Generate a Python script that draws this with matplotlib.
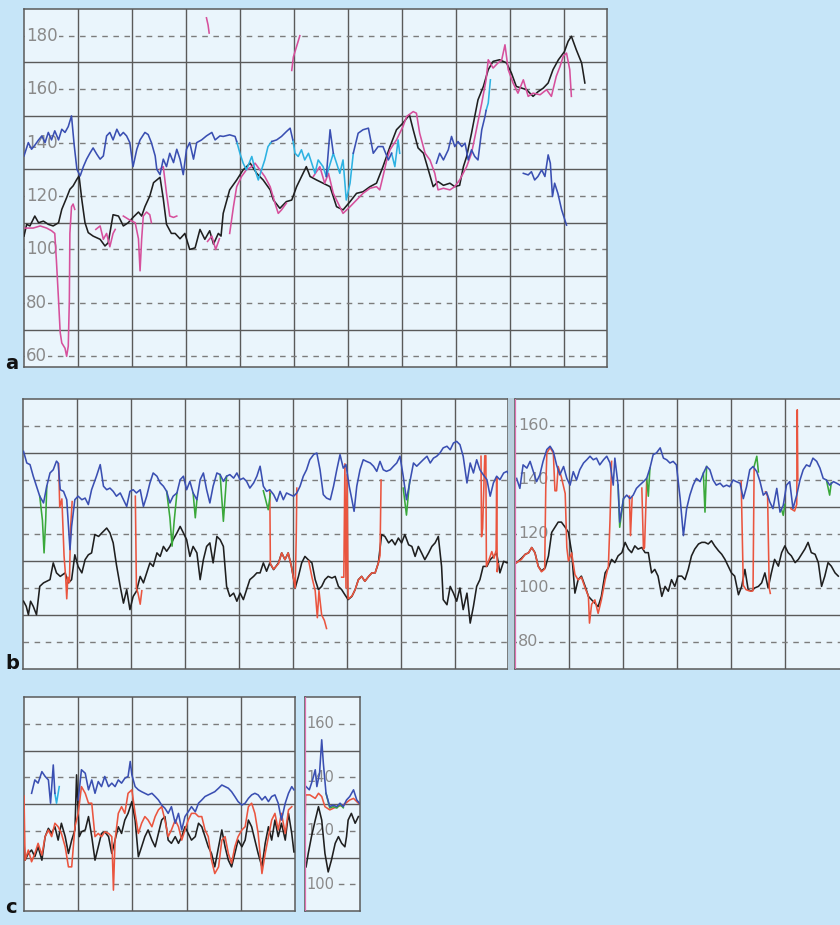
import matplotlib
matplotlib.use("Agg")
import matplotlib.pyplot as plt
from matplotlib.patches import Rectangle

# ---- traces: (time in grid units, bpm) ----
a_black = [(0.00,105),(0.05,109.4),(0.11,108.8),(0.20,112.5),(0.27,110),(0.36,110.6),(0.45,109.4),(0.54,108.8),
           (0.64,110),(0.70,115),(0.79,119.4),(0.85,122.5),(0.91,123.8),(0.98,126.3),(1.02,127.5),(1.07,118.8),
           (1.13,110),(1.19,106.3),(1.28,105),(1.41,103.8),(1.50,101.3),(1.56,102.5),(1.65,113),(1.75,112.5),
           (1.84,108.8),(1.93,110),(2.02,112),(2.12,114),(2.18,112.5),(2.24,116),(2.33,120),(2.40,125),(2.46,126),
           (2.52,127),(2.58,119),(2.64,109.4),(2.73,106),(2.80,106),(2.89,104),(2.98,106),(3.07,100),(3.17,100.6),
           (3.26,107.5),(3.35,103.8),(3.44,107),(3.51,102),(3.60,106),(3.65,105),(3.69,113.5),(3.81,122.3),
           (3.94,126),(4.06,129.8),(4.19,132.3),(4.31,128.5),(4.43,126),(4.56,122.3),(4.62,118.5),(4.74,115.4),
           (4.86,117.9),(4.96,118.5),(5.05,123.5),(5.17,128.5),(5.23,131),(5.30,127.3),(5.42,126),(5.54,124.8),
           (5.67,123.5),(5.79,116),(5.91,114.8),(6.04,117.9),(6.16,121),(6.28,121.6),(6.41,123.5),(6.53,124.8),
           (6.65,131),(6.78,138.5),(6.90,144.8),(7.02,147.3),(7.14,150.4),(7.21,144.8),(7.30,138),(7.40,136),
           (7.49,129.8),(7.58,123.5),(7.67,125.4),(7.77,124),(7.89,124.8),(7.98,123.5),(8.07,124),(8.14,131),
           (8.20,134.8),(8.29,143.5),(8.35,149.8),(8.41,156),(8.51,161),(8.60,167.3),(8.69,170.4),(8.81,171),
           (8.94,169.8),(9.03,166),(9.12,161),(9.22,160.4),(9.31,159.8),(9.43,157.3),(9.52,159),(9.62,160.4),
           (9.71,162.3),(9.80,167.3),(9.90,171),(10.01,174),(10.08,177.9),(10.14,179.8),(10.23,174.8),
           (10.33,169.8),(10.39,162.3)]

a_pink = [
    [(0.02,108),(0.17,108),(0.30,108.8),(0.42,108),(0.51,107),(0.57,106),(0.60,96),(0.64,81),(0.67,69),
     (0.70,65),(0.76,63),(0.79,60),(0.82,63.8),(0.84,81),(0.85,106),(0.88,116),(0.91,117),(0.94,115)],
    [(1.33,107.5),(1.41,108.8),(1.47,103.8),(1.53,106),(1.59,101),(1.65,106),(1.69,107.5)],
    [(1.84,112.5),(1.96,111),(2.06,110),(2.12,104),(2.15,92),(2.18,104),(2.21,112.5),(2.27,114),(2.33,113),(2.36,110)],
    [(2.52,130),(2.58,131),(2.64,121),(2.70,112.5),(2.77,112),(2.83,112.5)],
    [(3.40,103),(3.48,105),(3.55,100),(3.62,104)],
    [(3.38,186.7),(3.41,184),(3.43,181)],
    [(3.81,106),(3.88,116),(3.94,123.5),(4.03,127.3),(4.12,129.8),(4.22,131),(4.28,132.3),(4.37,129.8),
     (4.46,127.3),(4.56,123.5),(4.65,117.3),(4.71,113.5),(4.77,114.8),(4.86,117.3)],
    [(4.96,167),(4.99,172),(5.05,176),(5.11,180)],
    [(5.36,127.3),(5.48,131),(5.57,124.8),(5.64,128.5),(5.73,121),(5.85,116),(5.91,113.5),(6.04,116),
     (6.16,118.5),(6.28,121),(6.41,122.9),(6.53,123.5),(6.59,122.3),(6.65,127.3),(6.72,133.5),(6.78,137.3),
     (6.90,141),(7.02,146),(7.09,149.8),(7.21,151.6),(7.27,151),(7.33,143.5),(7.43,136),(7.52,133.5),
     (7.61,128.5),(7.67,122.3),(7.77,122.9),(7.89,122.3),(7.98,123.5),(8.07,126),(8.20,131),(8.29,136),
     (8.38,144.8),(8.48,154.8),(8.56,163.5),(8.60,171),(8.69,167.9),(8.78,169.8),(8.85,171),(8.91,176.6),
     (8.97,167.3),(9.06,162.3),(9.15,158.5),(9.25,163.5),(9.34,157.3),(9.43,158.5),(9.56,157.9),(9.68,159.8),
     (9.77,157.3),(9.86,164.8),(9.93,168.5),(9.99,172.3),(10.05,173.5),(10.11,167.3),(10.14,157.3)],
]

a_blue = [
    [(0.00,135),(0.08,140),(0.14,137.5),(0.20,139),(0.27,141),(0.33,142.5),(0.39,140),(0.45,143.8),(0.51,141),
     (0.57,144.4),(0.64,141),(0.70,145),(0.76,143.8),(0.82,146),(0.88,150),(0.93,139),(0.98,130),(1.04,127.5),
     (1.10,131),(1.16,133.8),(1.22,136),(1.28,138),(1.35,135.6),(1.41,133.8),(1.47,135),(1.53,142.5),
     (1.59,143.8),(1.65,141),(1.72,145),(1.78,142.5),(1.84,143.8),(1.90,142.5),(1.96,140),(2.02,131),
     (2.09,137.5),(2.15,141),(2.24,143.8),(2.30,143),(2.36,140),(2.43,135),(2.46,130),(2.52,128),(2.58,133.8),
     (2.64,131),(2.70,136),(2.77,132.5),(2.83,137.5),(2.89,133.8),(2.95,128),(3.01,137.5),(3.07,140),
     (3.14,133.8),(3.20,140),(3.29,141),(3.38,142.5),(3.48,143.8),(3.54,141),(3.63,142.5),(3.69,142.3),
     (3.81,142.9),(3.91,142.3),(3.94,140.4)],
    [(4.59,140.4),(4.68,141),(4.77,142.3),(4.86,144.1),(4.93,145.4),(4.98,141)],
    [(5.60,127.3),(5.67,144.8),(5.73,136)],
    [(6.10,136),(6.19,143.5),(6.28,144.8),(6.38,145.4),(6.47,136),(6.56,138.5),(6.65,138.5),(6.75,133.5),(6.81,136)],
    [(7.64,132.3),(7.70,136),(7.77,133.5),(7.86,137.3),(7.92,142.3),(7.98,138.5),(8.04,140.4),(8.11,138.5),
     (8.17,139.8),(8.23,133.5),(8.29,137.3),(8.35,134.8),(8.41,133.5),(8.48,144.8),(8.54,149.8),(8.56,152)],
    [(9.25,128.5),(9.34,127.9),(9.40,129.1),(9.46,126),(9.52,127.3),(9.59,129.8),(9.65,127.3),(9.71,135.4),
     (9.75,132.3),(9.79,119.8),(9.83,124.8),(9.89,121),(9.96,114.8),(10.02,111),(10.05,109.1)],
]

a_cyan = [
    [(3.94,140.4),(4.00,136),(4.06,132.3),(4.12,129.8),(4.22,134.8),(4.28,129.8),(4.34,126),(4.40,129.8),
     (4.46,133.5),(4.52,138.5),(4.59,140.4)],
    [(4.98,141),(5.02,136),(5.08,134.8),(5.14,137.3),(5.20,133.5),(5.27,136),(5.33,132.3),(5.39,128.5),
     (5.45,133.5),(5.54,131),(5.60,127.3),(5.73,136),(5.79,132.3),(5.85,128.5),(5.91,133.5),(5.97,118.5),
     (6.04,124.8),(6.10,136)],
    [(6.81,136),(6.87,131),(6.93,141),(6.96,136)],
    [(8.56,152),(8.60,154.8),(8.64,163.5)],
]

bl_black = [(0.01,95.1),(0.06,93.2),(0.10,90.1),(0.14,95.1),(0.19,93.2),(0.25,90.1),(0.31,100.6),(0.38,101.9),
            (0.44,102.5),(0.50,103.1),(0.56,109.3),(0.62,105.6),(0.69,104.3),(0.78,105.6),(0.84,101.9),(0.90,103.1),
            (0.96,112.3),(1.02,108),(1.09,105.6),(1.15,110.5),(1.21,112.3),(1.27,113),(1.33,119.8),(1.40,119.1),
            (1.46,120.4),(1.55,122.2),(1.61,120.4),(1.67,116.7),(1.73,108.6),(1.80,100.6),(1.86,94.4),(1.92,99.4),
            (1.98,92),(2.04,96.9),(2.10,98.8),(2.17,104.3),(2.23,101.9),(2.29,105.6),(2.35,109.3),(2.41,108),
            (2.48,113),(2.54,111.7),(2.60,115.4),(2.66,113.6),(2.72,115.4),(2.78,117.9),(2.85,120.4),(2.91,122.8),
            (2.97,120.4),(3.03,117.9),(3.09,111.7),(3.15,115.4),(3.22,113),(3.28,103.1),(3.34,110.5),(3.40,115.4),
            (3.46,116.7),(3.52,109.3),(3.59,119.1),(3.65,117.9),(3.71,115.4),(3.77,100.6),(3.83,96.9),(3.90,98.1),
            (3.96,95.1),(4.02,98.1),(4.08,95.7),(4.14,99.4),(4.20,103.1),(4.27,104.3),(4.33,105.6),(4.39,105.6),
            (4.45,109.3),(4.51,106.2),(4.57,109.3),(4.64,106.8),(4.73,109.3),(4.79,113),(4.85,110.5),(4.91,113),
            (4.97,108),(5.04,100),(5.10,104.3),(5.16,109.3),(5.22,111.7),(5.28,110.5),(5.35,109.3),(5.41,103.1),
            (5.47,99.4),(5.53,100.6),(5.59,103.1),(5.65,104.3),(5.72,103.7),(5.78,104.3),(5.84,100.6),(5.90,99.4),
            (5.96,97.5),(6.02,95.7),(6.09,96.9),(6.15,99.4),(6.21,103.1),(6.27,104.3),(6.33,102.5),(6.40,104.3),
            (6.46,105.6),(6.52,105.6),(6.58,109.3),(6.64,119.8),(6.70,119.1),(6.77,116.7),(6.83,117.9),(6.89,116),
            (6.95,118.5),(7.01,116.7),(7.07,119.8),(7.14,116),(7.20,115.4),(7.26,111.7),(7.32,115.4),(7.38,113),
            (7.44,110.5),(7.51,113),(7.57,115.4),(7.63,116.7),(7.69,119.1),(7.75,108),(7.78,95.7),(7.85,93.8),
            (7.91,100.6),(7.97,98.1),(8.03,95.1),(8.09,100),(8.15,92),(8.22,98.1),(8.28,87),(8.34,93.2),
            (8.40,100.6),(8.46,103.1),(8.52,108),(8.59,108),(8.65,110.5),(8.71,111.7),(8.77,113),(8.83,105.6),
            (8.90,109.9),(8.96,109.3),(9.02,109.9)]

bl_blue = [(0.01,150.6),(0.07,146.3),(0.13,145.7),(0.19,141.4),(0.25,137.7),(0.31,134),(0.38,131.5),(0.44,137.7),
           (0.50,142.6),(0.56,143.8),(0.62,147),(0.65,146.3),(0.69,136.4),(0.75,135.8),(0.81,132.7),(0.87,114.2),
           (0.90,122.8),(0.96,132.7),(1.02,134),(1.09,132.7),(1.15,133.3),(1.21,130.9),(1.27,136.4),(1.36,141.4),
           (1.43,145.7),(1.49,137.7),(1.55,136.4),(1.61,137),(1.67,135.8),(1.73,134),(1.80,135.2),(1.86,132.7),
           (1.92,130.2),(1.98,135.8),(2.04,136.4),(2.10,135.2),(2.17,136.4),(2.23,130.2),(2.29,134),(2.35,138.9),
           (2.41,142.6),(2.48,141.4),(2.54,138.9),(2.60,137.7),(2.66,135.8),(2.72,131.5),(2.78,134),(2.85,135.2),
           (2.91,140.1),(2.97,141.4),(3.03,136.4),(3.09,139.5),(3.15,135.2),(3.22,132.7),(3.28,140.1),(3.34,142.6),
           (3.40,136.4),(3.46,131.5),(3.52,137.7),(3.59,142.6),(3.65,142),(3.71,139.5),(3.77,141.4),(3.83,142),
           (3.90,140.7),(3.96,142.6),(4.02,140.1),(4.08,140.7),(4.14,139.5),(4.20,137),(4.27,138.9),(4.33,141.4),
           (4.39,145.1),(4.45,137.7),(4.51,135.8),(4.57,136.4),(4.64,134.6),(4.70,132.1),(4.76,135.8),(4.82,132.7),
           (4.88,135.2),(4.94,134.6),(5.01,134),(5.07,135.2),(5.13,137.7),(5.19,141.4),(5.25,143.8),(5.31,147.5),
           (5.38,149.4),(5.44,150),(5.50,143.8),(5.56,134.6),(5.62,133.3),(5.69,132.7),(5.75,137.7),(5.81,143.8),
           (5.87,149.4),(5.93,144.4),(5.98,145.7),(6.04,137.7),(6.09,132.7),(6.13,128.4),(6.18,137.7),(6.24,143.8),
           (6.30,147.5),(6.36,146.9),(6.43,146.3),(6.49,145.1),(6.55,143.2),(6.61,146.9),(6.67,143.8),(6.73,143.2),
           (6.80,143.8),(6.86,145.1),(6.92,146.3),(6.98,148.8),(7.04,141.4),(7.10,132.7),(7.17,140.1),(7.23,146.3),
           (7.29,145.1),(7.35,146.3),(7.41,147.5),(7.48,148.8),(7.54,146.3),(7.60,148.1),(7.66,148.8),(7.72,150),
           (7.78,151.9),(7.85,152.5),(7.91,151.2),(7.97,153.7),(8.03,154.3),(8.09,153.1),(8.15,148.8),(8.22,138.9),
           (8.28,146.3),(8.34,142.6),(8.40,147.5),(8.46,143.8),(8.52,142),(8.59,140.1),(8.65,134),(8.71,138.9),
           (8.77,141.4),(8.83,140.1),(8.90,142.6),(8.96,143.2),(9.02,141.4)]

bl_green = [
    [(0.31,134),(0.36,125),(0.39,113),(0.42,125),(0.44,137.7)],
    [(2.66,135.8),(2.72,126),(2.76,115.5),(2.80,125),(2.85,135.2)],
    [(3.15,135.2),(3.19,126),(3.22,132.7)],
    [(3.65,142),(3.71,124.7),(3.77,141.4)],
    [(4.45,136),(4.54,129),(4.58,135)],
    [(7.04,137),(7.10,127),(7.16,140)],
]

bl_red = [
    [(0.66,146),(0.68,130),(0.72,133),(0.76,112),(0.79,104),(0.81,96),(0.83,104),(0.86,102),(0.88,122),(0.91,132)],
    [(2.08,134),(2.10,100),(2.13,98),(2.17,94),(2.20,99)],
    [(4.57,136),(4.58,109),(4.64,107),(4.73,109),(4.79,113),(4.85,110.5),(4.91,113),(4.97,108),(5.04,100),
     (5.06,120),(5.07,137)],
    [(5.29,110),(5.35,104),(5.41,99),(5.45,89),(5.48,99),(5.53,90),(5.58,88),(5.62,85)],
    [(5.90,104),(5.94,104),(5.96,146),(5.98,100),(6.00,142),(6.02,96),(6.09,97),(6.15,99.4),(6.21,103),
     (6.27,104.3),(6.33,102.5),(6.40,104.3),(6.46,105.6),(6.52,105.6),(6.58,109.3),(6.61,112),(6.63,140)],
    [(8.48,148.8),(8.49,119),(8.51,122),(8.55,149),(8.57,149),(8.58,108),(8.62,110),(8.68,113.5),(8.72,111),
     (8.76,114),(8.77,141),(8.78,106),(8.80,109)],
]

br_black = [(0.03,109.4),(0.12,111),(0.19,112.5),(0.25,113),(0.31,115),(0.37,113.1),(0.43,108.1),(0.49,106.3),
            (0.56,107.5),(0.62,111.9),(0.68,120.6),(0.74,122.5),(0.80,124.4),(0.86,124.4),(0.93,122.5),(0.99,120.6),
            (1.05,113.1),(1.11,98.1),(1.17,103.1),(1.23,104.4),(1.30,100.6),(1.36,96.9),(1.42,95.6),(1.48,94.4),
            (1.54,93.1),(1.60,96.9),(1.67,105.6),(1.73,107.5),(1.79,110.6),(1.85,109.4),(1.91,111.9),(1.98,113.1),
            (2.04,116.9),(2.10,114.4),(2.16,113.1),(2.22,115.6),(2.28,114.4),(2.35,115),(2.41,113.1),(2.47,113.1),
            (2.53,105.6),(2.59,106.9),(2.65,104.4),(2.72,96.9),(2.78,100.6),(2.84,98.8),(2.90,103.1),(2.96,100.6),
            (3.02,104.4),(3.09,104.4),(3.15,103.1),(3.21,106.9),(3.27,111.9),(3.33,114.4),(3.40,116.3),(3.46,116.9),
            (3.52,116.9),(3.58,116.3),(3.64,117.5),(3.70,115.6),(3.77,113.8),(3.83,112.5),(3.89,110.6),(3.95,108.1),
            (4.01,105.6),(4.07,104.4),(4.14,97.5),(4.20,100.6),(4.26,106.9),(4.32,99.4),(4.38,98.8),(4.44,100),
            (4.51,100.6),(4.57,101.9),(4.63,105.6),(4.69,100),(4.75,105.6),(4.81,110.6),(4.88,108.1),(4.94,113.1),
            (5.00,115.6),(5.06,113.1),(5.12,111.9),(5.19,109.4),(5.25,110.6),(5.31,112.5),(5.37,114.4),(5.43,116.9),
            (5.49,113.1),(5.56,112.5),(5.62,109.4),(5.68,100.6),(5.74,104.4),(5.80,109.4),(5.86,108.1),(5.93,105.6),
            (5.99,104.4)]

br_blue = [(0.03,140.6),(0.09,136.9),(0.15,145.6),(0.22,144.4),(0.28,146.9),(0.34,143.1),(0.40,139.4),(0.46,141.9),
           (0.52,146.9),(0.59,151.3),(0.65,152.5),(0.71,150.6),(0.77,145.6),(0.83,141.9),(0.90,145),(0.96,140.6),
           (1.02,138.1),(1.08,143.1),(1.14,140),(1.20,143.8),(1.27,146.3),(1.33,147.5),(1.39,148.8),(1.45,147.5),
           (1.51,148.1),(1.57,145.6),(1.64,147.5),(1.70,148.8),(1.76,146.3),(1.82,138.1),(1.85,148.1),(1.91,138.1),
           (1.94,124.4),(2.01,133.1),(2.07,134.4),(2.13,133.1),(2.19,134.4),(2.25,136.9),(2.31,138.1),(2.38,139.4),
           (2.44,140.6),(2.50,144.4),(2.56,149.4),(2.62,150),(2.69,151.9),(2.75,148.1),(2.81,147.5),(2.87,146.3),
           (2.93,146.9),(2.99,145.6),(3.06,133.1),(3.12,119.4),(3.18,129.4),(3.24,134.4),(3.30,138.1),(3.36,140.6),
           (3.43,139.4),(3.49,142.5),(3.55,145),(3.61,143.8),(3.67,140),(3.73,138.1),(3.80,138.8),(3.86,137.5),
           (3.92,138.1),(3.98,137.5),(4.04,140),(4.10,139.4),(4.17,138.8),(4.23,133.1),(4.29,137.5),(4.35,143.8),
           (4.41,145),(4.48,143.1),(4.54,139.4),(4.60,134.4),(4.66,135.6),(4.72,131.9),(4.78,129.4),(4.85,136.9),
           (4.91,128.1),(4.97,130.6),(5.03,138.1),(5.09,139.4),(5.15,129.4),(5.22,134.4),(5.28,140),(5.34,143.8),
           (5.40,145.6),(5.46,145),(5.52,148.1),(5.59,146.9),(5.65,144.4),(5.71,140.6),(5.77,140),(5.83,138.1),
           (5.90,139.4),(5.96,138.8),(6.02,138.1)]

br_green = [
    [(1.91,138.1),(1.94,122.5),(2.01,133.1)],
    [(2.44,140.6),(2.47,134),(2.50,144.4)],
    [(3.49,142.5),(3.52,128.1),(3.55,145)],
    [(4.43,145),(4.48,148.8),(4.51,143)],
    [(4.94,129),(4.97,126.9),(5.00,131)],
    [(5.77,140),(5.83,134.4),(5.86,139)],
]

br_red = [
    [(0.00,109),(0.03,109.4),(0.12,110.6),(0.19,112.5),(0.25,113),(0.31,115),(0.37,113),(0.43,108),(0.49,106),
     (0.55,107),(0.57,137),(0.59,150),(0.65,152),(0.71,150),(0.74,136),(0.77,136),(0.80,145),(0.86,141),
     (0.93,135),(0.96,115),(0.99,110),(1.05,113),(1.11,105),(1.17,103),(1.23,104),(1.30,100),(1.36,97),
     (1.38,87),(1.42,94),(1.48,95.6),(1.54,90.6),(1.60,95.6),(1.67,103),(1.73,108),(1.76,125),(1.79,146.9)],
    [(2.12,134),(2.14,119.4),(2.17,133.5)],
    [(2.35,137),(2.38,114.4),(2.40,115),(2.44,140)],
    [(4.19,139.5),(4.23,101),(4.28,99.4),(4.33,99),(4.38,98.8),(4.41,99),(4.43,144)],
    [(4.64,135.6),(4.68,134),(4.71,100),(4.73,98)],
    [(5.11,129.4),(5.18,128.5),(5.22,131),(5.23,166),(5.24,140)],
]

cl_black = [(0.00,115.3),(0.02,109),(0.08,111.5),(0.14,112.8),(0.20,110.3),(0.26,114),(0.33,109),(0.39,117.8),
            (0.45,120.9),(0.51,119),(0.57,121.5),(0.63,116.5),(0.69,122.8),(0.76,117.8),(0.82,111.5),(0.88,116.5),
            (0.94,120.3),(0.97,140.9),(1.02,117.8),(1.06,119.6),(1.13,120.3),(1.19,125.3),(1.25,117.8),(1.31,109),
            (1.37,114),(1.43,119),(1.49,119.6),(1.56,117.8),(1.62,111.5),(1.68,116.5),(1.74,121.5),(1.80,119),
            (1.86,124),(1.92,126.5),(1.99,130.9),(2.05,124),(2.11,110.3),(2.17,114),(2.23,117.8),(2.29,120.3),
            (2.36,116.5),(2.42,114),(2.48,119),(2.54,124),(2.60,125.3),(2.66,116.5),(2.72,115.3),(2.79,117.8),
            (2.85,115.3),(2.91,117.8),(2.97,121.5),(3.03,119),(3.09,116.5),(3.16,117.8),(3.22,122.8),(3.28,121.5),
            (3.34,117.8),(3.40,114),(3.46,111.5),(3.52,106.5),(3.59,114),(3.65,120.3),(3.71,114),(3.77,109),
            (3.83,106.5),(3.89,111.5),(3.95,116.5),(4.02,114),(4.08,116.5),(4.14,124),(4.20,121.5),(4.26,116.5),
            (4.32,111.5),(4.39,106.5),(4.45,115.3),(4.51,121.5),(4.57,116.5),(4.63,124),(4.69,117.8),(4.75,122.8),
            (4.82,116.5),(4.88,126.5),(4.94,119),(4.98,112.1)]

cl_red = [(0.00,133),(0.02,109),(0.08,112.8),(0.14,108.4),(0.20,111.5),(0.26,115.3),(0.33,110.9),(0.39,117.8),
          (0.45,120.3),(0.51,117.8),(0.57,122.8),(0.63,121.5),(0.69,119),(0.76,114),(0.82,106.5),(0.88,106.5),
          (0.94,121.5),(1.00,126.5),(1.06,136.5),(1.13,134),(1.19,130.3),(1.25,130.3),(1.31,117.8),(1.37,119),
          (1.43,117.8),(1.49,119.6),(1.56,119),(1.62,117.8),(1.65,97.8),(1.68,116.5),(1.74,126.5),(1.80,129),
          (1.86,126.5),(1.92,134),(1.99,135.3),(2.05,126.5),(2.11,119),(2.17,122.8),(2.23,125.3),(2.29,124),
          (2.36,121.5),(2.42,125.3),(2.48,127.8),(2.54,129),(2.60,124),(2.66,117.8),(2.72,120.3),(2.79,124),
          (2.85,121.5),(2.91,116.5),(2.97,120.3),(3.03,124),(3.09,126.5),(3.16,126.5),(3.22,125.3),(3.28,125.3),
          (3.34,120.3),(3.40,117.8),(3.46,109),(3.52,104),(3.59,106.5),(3.65,116.5),(3.71,117.8),(3.77,111.5),
          (3.83,107.8),(3.89,114),(3.95,117.8),(4.02,120.3),(4.08,121.5),(4.14,129),(4.20,130.3),(4.26,126.5),
          (4.32,119),(4.39,104),(4.45,111.5),(4.51,117.8),(4.57,124),(4.63,126.5),(4.69,120.3),(4.75,126.5),
          (4.82,119),(4.88,127.8),(4.94,129)]

cl_blue = [
    [(0.14,134),(0.20,139),(0.26,137.8),(0.33,142.1),(0.39,140.3),(0.45,139),(0.49,130.3),(0.54,144.6),(0.57,134)],
    [(1.00,131.5),(1.06,142.8),(1.13,141.5),(1.19,135.3),(1.25,139),(1.31,134),(1.37,138.4),(1.43,136.5),
     (1.49,140.3),(1.56,136.5),(1.62,137.8),(1.68,136.5),(1.74,139),(1.80,137.8),(1.86,139.6),(1.92,140.3),
     (1.96,145.9),(1.99,140.9),(2.05,136.5),(2.11,135.3),(2.17,134.6),(2.23,134),(2.29,133.4),(2.36,134),
     (2.42,132.8),(2.48,131.5),(2.54,129.6),(2.60,128.4),(2.66,126.5),(2.72,129),(2.79,122.8),(2.85,126.5),
     (2.91,120.3),(2.97,125.3),(3.03,127.1),(3.09,129),(3.16,127.1),(3.22,130.3),(3.28,131.5),(3.34,132.8),
     (3.40,133.4),(3.46,134),(3.52,134.6),(3.59,135.9),(3.65,137.1),(3.71,136.5),(3.77,135.9),(3.83,134.6),
     (3.89,132.8),(3.95,130.9),(4.02,129.6),(4.08,130.3),(4.14,132.1),(4.20,133.4),(4.26,134),(4.32,133.4),
     (4.39,131.5),(4.45,132.8),(4.51,130.9),(4.57,132.8),(4.63,133.4),(4.69,130.3),(4.75,124),(4.82,130.3),
     (4.88,134),(4.94,136.5),(4.98,135.3)],
]
cl_cyan = [(0.57,134),(0.60,130.3),(0.65,136.5)]

cr_black = [(0.02,106.5),(0.06,111.5),(0.12,117.8),(0.19,124),(0.25,129),(0.31,124),(0.37,111.5),(0.43,104.6),
            (0.49,109),(0.56,115.3),(0.62,117.8),(0.68,115.3),(0.74,114),(0.77,117.8),(0.80,124),(0.86,126.5),
            (0.93,122.8),(0.99,125.3)]
cr_blue = [(0.02,136.5),(0.08,135.3),(0.14,139),(0.19,142.8),(0.22,136.5),(0.27,141.5),(0.31,154),(0.34,145.3),
           (0.39,134),(0.46,129),(0.52,129.6),(0.59,129),(0.65,130.3),(0.71,129),(0.77,131.5),(0.83,132.8),
           (0.90,135.3),(0.96,131.5),(1.01,130.3)]
cr_green = [(0.39,134),(0.46,128.5),(0.52,129),(0.59,128.5),(0.65,129.8),(0.71,128.6)]
cr_red = [(0.00,120),(0.01,133.4),(0.09,133.4),(0.19,132.1),(0.25,134),(0.31,132.8),(0.37,129),(0.46,127.8),
          (0.59,129),(0.71,129.6),(0.83,131.5),(0.90,132.1),(0.99,130.3)]

a_labels = [180, 160, 140, 120, 100, 80, 60]
b_labels = [160, 140, 120, 100, 80]
c_labels = [160, 140, 120, 100]

# ---- style ----
OUTER = '#c6e5f8'
PANEL = '#eaf5fc'
C_BLACK = '#1f1f1f'
C_BLUE = '#3a4fb2'
C_CYAN = '#2db2e2'
C_PINK = '#d6509c'
C_RED = '#ea553f'
C_GREEN = '#3aa83a'
C_SEP = '#e070b0'
W, H = 840, 925

fig = plt.figure(figsize=(8.4, 9.25), dpi=100, facecolor=OUTER)


def panel(x0, x1, y0, y1, xlim, ylim, xgrid, solid, dashed):
    ax = fig.add_axes([x0 / W, 1 - y1 / H, (x1 - x0) / W, (y1 - y0) / H])
    ax.set_facecolor(PANEL)
    ax.set_xlim(*xlim)
    ax.set_ylim(*ylim)
    ax.set_xticks([])
    ax.set_yticks([])
    for s in ax.spines.values():
        s.set_color('#5a5a5a')
        s.set_linewidth(1.1)
    for gx in xgrid:
        ax.axvline(gx, color='#5a5a5a', lw=1.0, zorder=0.6)
    for gy in solid:
        ax.axhline(gy, color='#5a5a5a', lw=1.0, zorder=0.6)
    for gy in dashed:
        ax.axhline(gy, color='#7c7c7c', lw=1.0, ls=(0, (4, 4)), zorder=0.6)
    return ax


def trace(ax, pts, color, z, lw=1.15):
    xs = [p[0] for p in pts]
    ys = [p[1] for p in pts]
    ax.plot(xs, ys, color=color, lw=lw, zorder=z, solid_joinstyle='round')


def labels(ax, vals, x, size):
    for v in vals:
        ax.text(x, v, str(v), fontsize=size, color='#8a8a8a', ha='left', va='center', zorder=1.5,
                bbox=dict(facecolor=PANEL, edgecolor='none', pad=0.6))


# panel a
ax_a = panel(24, 607, 9, 367, (0, 10.8), (56, 190), range(1, 11),
             [70, 90, 110, 130, 150, 170], [60, 80, 100, 120, 140, 160, 180])
labels(ax_a, a_labels, 0.04, 12)
trace(ax_a, a_black, C_BLACK, 3)
for seg in a_pink:
    trace(ax_a, seg, C_PINK, 3.5)
for seg in a_cyan:
    trace(ax_a, seg, C_CYAN, 4)
for seg in a_blue:
    trace(ax_a, seg, C_BLUE, 4.5)

# panel b
ax_bl = panel(23, 508, 399, 669, (0, 8.98), (70, 170), range(1, 9),
              [90, 110, 130, 150], [80, 100, 120, 140, 160])
trace(ax_bl, bl_black, C_BLACK, 3)
for seg in bl_red:
    trace(ax_bl, seg, C_RED, 3.5)
for seg in bl_green:
    trace(ax_bl, seg, C_GREEN, 4)
trace(ax_bl, bl_blue, C_BLUE, 4.5)

ax_br = panel(515, 841, 399, 669, (0, 6.04), (70, 170), range(1, 6),
              [90, 110, 130, 150], [80, 100, 120, 140, 160])
labels(ax_br, b_labels, 0.06, 11.5)
ax_br.axvline(0, color=C_SEP, lw=1.6, zorder=5)
trace(ax_br, br_black, C_BLACK, 3)
for seg in br_red:
    trace(ax_br, seg, C_RED, 3.5)
for seg in br_green:
    trace(ax_br, seg, C_GREEN, 4)
trace(ax_br, br_blue, C_BLUE, 4.5)

fig.add_artist(Rectangle((508 / W, 1 - 670 / H), 6 / W, 272 / H, transform=fig.transFigure,
                         facecolor='#b9cfdd', edgecolor='none'))

# panel c
ax_cl = panel(24, 295, 697, 911, (0, 5.0), (90, 170), range(1, 5),
              [110, 130, 150], [100, 120, 140, 160])
trace(ax_cl, cl_black, C_BLACK, 3)
trace(ax_cl, cl_red, C_RED, 3.5)
trace(ax_cl, cl_cyan, C_CYAN, 4)
for seg in cl_blue:
    trace(ax_cl, seg, C_BLUE, 4.5)

ax_cr = panel(305, 360, 697, 911, (0, 1.02), (90, 170), [],
              [110, 130, 150], [100, 120, 140, 160])
labels(ax_cr, c_labels, 0.03, 10.5)
ax_cr.axvline(0, color=C_SEP, lw=1.6, zorder=5)
trace(ax_cr, cr_black, C_BLACK, 3)
trace(ax_cr, cr_red, C_RED, 3.5)
trace(ax_cr, cr_green, C_GREEN, 4)
trace(ax_cr, cr_blue, C_BLUE, 4.5)

# panel letters
for letter, ypx in (('a', 369), ('b', 669), ('c', 913)):
    fig.text(5 / W, 1 - ypx / H, letter, fontsize=14, fontweight='bold', color='#111111',
             ha='left', va='baseline')

fig.savefig('out.png', dpi=100, facecolor=OUTER)
